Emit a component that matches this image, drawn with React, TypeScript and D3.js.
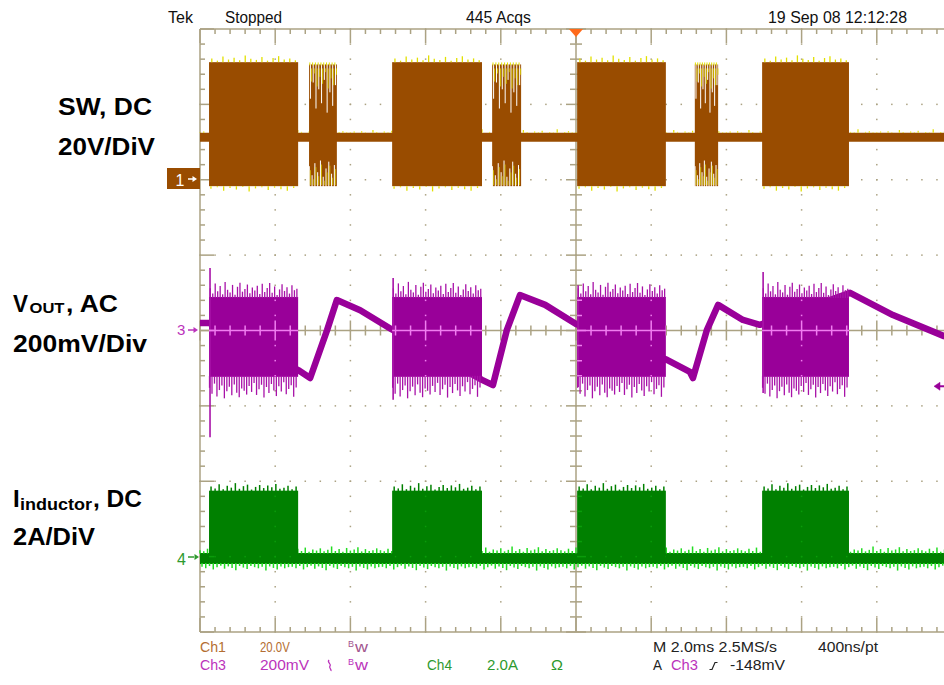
import React from "react";
import * as d3 from "d3";

// ---------------- data ----------------
const timeDomainMs: [number, number] = [-10, 10]; // 2 ms/div, 10 div
const divDomain: [number, number] = [-4, 4];

const ch1VoltsPerDiv = 20;
const ch1OffsetDiv = 2;
const ch3MvPerDiv = 200;
const ch3OffsetDiv = 0;
const ch4AmpsPerDiv = 2;
const ch4OffsetDiv = -3;

// switching bursts (ms)
const burstStartMs = [-9.76, -4.89, 0.03, 4.95];
const burstEndMs = [-7.39, -2.5, 2.39, 7.26];
const sparseStartMs = [-7.1, -2.23, 3.16];
const sparseEndMs = [-6.36, -1.46, 3.78];

// CH1 SW (V)
const swIdleV = 11.3;
const swHighV = 31.2;
const swLowV = -1.7;
const swSparseHighV = 30.6;
const swTopSpikesV = [32.2, 31.6, 32.7, 31.9, 32.4, 31.7, 33.0, 32.1, 31.8, 32.6, 31.6, 32.3, 32.8, 31.9, 32.2, 31.7];
const swBottomSpikesV = [-2.4, -2.0, -2.9, -2.2, -2.6, -1.9, -3.1, -2.3, -2.0, -2.7, -2.1, -2.5, -2.9, -2.2];
const swIdleFuzzV = [12.6, 12.8, 12.5, 12.9, 12.6, 12.5, 13.2, 12.7, 12.5, 12.8, 12.6, 13.0, 12.5, 12.7, 12.6, 13.4, 12.5, 12.7, 12.9, 12.6];
const swSparseGapTopV = [21.5, 25.8, 18.9, 24.0, 20.3, 26.5, 17.8, 23.2, 19.6, 25.1];
const swSparseGapBottomV = [3.6, 1.2, 4.4, 2.0, 5.1, 0.8, 3.0, 4.8, 1.6, 3.9];

// CH3 VOUT AC (mV)
const voutTimeMs = [-10, -9.76, -7.39, -7.07, -6.62, -6.36, -5.74, -4.92, -2.5, -2.21, -1.84, -1.49, -0.82, 0, 2.42, 3.03, 3.11, 3.48, 3.78, 4.44, 4.89, 7.29, 8.43, 9.79, 10];
const voutMv = [20, 20, -105, -126, 1, 81, 54, 4, -131, -145, 1, 94, 68, 17, -78, -110, -126, 1, 68, 28, 15, 100, 41, -15, -20];
const voutBandTopMv = 89;
const voutBandBottomMv = -123;
const voutUpSpikesMv = [112, 98, 125, 104, 118, 96, 129, 108, 101, 121, 95, 116, 127, 103, 110, 122, 99, 114, 106, 119, 97, 124, 102, 113, 126, 100, 117, 94, 109, 123, 105, 115, 98, 120, 107, 111];
const voutDownSpikesMv = [-152, -168, -141, -175, -158, -146, -180, -161, -149, -172, -143, -165, -177, -154, -160, -170, -147, -163, -139, -171, -156, -144, -178, -150, -166, -142, -159, -174, -148, -162, -137, -169, -155, -145, -176, -151];
const voutEdgeSpikeMaxMv = [166, 139, 120, 155];
const voutEdgeSpikeMinMv = [-283, -184, -150, -166];
const trigLevelMv = -148;

// CH4 inductor current (A)
const ilBurstTopA = 1.75;
const ilBurstBottomA = -0.17;
const ilBaseA = -0.05;
const ilTopSpikesA = [1.86, 1.81, 1.92, 1.79, 1.88, 1.83, 1.95, 1.8, 1.87, 1.91, 1.78, 1.85, 1.9, 1.82, 1.89, 1.84, 1.93, 1.8, 1.83, 1.88, 1.79, 1.86];
const ilFuzzUpA = [0.17, 0.14, 0.21, 0.15, 0.24, 0.13, 0.19, 0.16, 0.22, 0.14, 0.18, 0.27, 0.15, 0.2, 0.13, 0.23, 0.16, 0.19, 0.25, 0.14, 0.2, 0.15, 0.17, 0.22];
const ilFuzzDownA = [-0.27, -0.31, -0.25, -0.34, -0.28, -0.24, -0.32, -0.26, -0.3, -0.36, -0.25, -0.29, -0.33, -0.25, -0.28, -0.31, -0.27, -0.37, -0.26, -0.3, -0.34, -0.26, -0.31, -0.28];

// texts
const topTexts = [
  { t: "Tek", x: 168, len: 25 },
  { t: "Stopped", x: 225, len: 57 },
  { t: "445 Acqs", x: 466, len: 65 },
  { t: "19 Sep 08 12:12:28", x: 768, len: 139 },
];

// ---------------- colours ----------------
const GRID = "#aba283";
const BROWN = "#994c00";
const YELLOW = "#e2e000";
const PURPLE = "#990099";
const PURPLE_SPIKE = "#a812a8";
const PINK = "#f07ef0";
const GREEN = "#008000";
const LGREEN = "#22dd22";
const CH1TXT = "#b46e32";
const CH3TXT = "#bb33bb";
const CH4TXT = "#2e9a2e";
const SCOPE_FONT = "'Liberation Sans', Arial, sans-serif";

const x = d3.scaleLinear().domain(timeDomainMs).range([200, 952]);
const yDiv = d3.scaleLinear().domain(divDomain).range([632, 29]);
const y1 = (v: number) => yDiv(ch1OffsetDiv + v / ch1VoltsPerDiv);
const y3 = (mv: number) => yDiv(ch3OffsetDiv + mv / ch3MvPerDiv);
const y4 = (a: number) => yDiv(ch4OffsetDiv + a / ch4AmpsPerDiv);
const spread = (s: number, e: number, n: number, i: number, off = 0.5) => s + ((i + off) * (e - s)) / n;

function Graticule({ color }: { color: string }) {
  const left = x(-10), right = x(10), top = yDiv(4), bottom = yDiv(-4);
  const cx = x(0), cy = yDiv(0);
  const minorX = d3.range(0, 51).map((i) => left + (i * (right - left)) / 50);
  const minorY = d3.range(0, 41).map((i) => top + (i * (bottom - top)) / 40);
  const els: JSX.Element[] = [];
  d3.range(1, 10).forEach((k) => {
    if (k === 5) return;
    const gx = x(-10 + 2 * k);
    minorY.forEach((yy, j) => els.push(<rect key={`dv${k}-${j}`} x={gx - 0.75} y={yy - 0.75} width={1.5} height={1.5} fill={color} />));
  });
  d3.range(1, 8).forEach((k) => {
    if (k === 4) return;
    const gy = yDiv(-4 + k);
    minorX.forEach((xx, j) => els.push(<rect key={`dh${k}-${j}`} x={xx - 0.75} y={gy - 0.75} width={1.5} height={1.5} fill={color} />));
  });
  els.push(<line key="bl" x1={left} x2={left} y1={top} y2={bottom} stroke={color} strokeWidth={1.5} />);
  els.push(<line key="bt" x1={left} x2={right} y1={top} y2={top} stroke={color} strokeWidth={1.5} />);
  els.push(<line key="bb" x1={left} x2={right} y1={bottom} y2={bottom} stroke={color} strokeWidth={1.5} />);
  els.push(<line key="ch" x1={left} x2={right} y1={cy} y2={cy} stroke={color} strokeWidth={1.5} />);
  els.push(<line key="cv" x1={cx} x2={cx} y1={top} y2={bottom} stroke={color} strokeWidth={1.5} />);
  minorX.forEach((xx, i) => {
    const maj = i % 5 === 0;
    els.push(<line key={`tt${i}`} x1={xx} x2={xx} y1={top} y2={top + (maj ? 14 : 5)} stroke={color} strokeWidth={1.5} />);
    els.push(<line key={`tb${i}`} x1={xx} x2={xx} y1={bottom} y2={bottom - (maj ? 14 : 5)} stroke={color} strokeWidth={1.5} />);
    els.push(<line key={`tc${i}`} x1={xx} x2={xx} y1={cy - (maj ? 10 : 5)} y2={cy + (maj ? 10 : 5)} stroke={color} strokeWidth={1.5} />);
  });
  minorY.forEach((yy, i) => {
    const maj = i % 5 === 0;
    els.push(<line key={`tl${i}`} x1={left} x2={left + (maj ? 14 : 5)} y1={yy} y2={yy} stroke={color} strokeWidth={1.5} />);
    els.push(<line key={`tv${i}`} x1={cx - (maj ? 10 : 6)} x2={cx + (maj ? 10 : 6)} y1={yy} y2={yy} stroke={color} strokeWidth={1.5} />);
  });
  return <g>{els}</g>;
}

export default function App() {
  const voutLine = d3
    .line<number>()
    .x((_, i) => x(voutTimeMs[i]))
    .y((d) => y3(d));

  const fuzzTimes = d3.range(0, 201).map((i) => -10 + i * 0.1);

  return (
    <svg width={944} height={685} style={{ position: "absolute", left: 0, top: 0, background: "#fff" }} fontFamily={SCOPE_FONT}>
      <rect width={944} height={685} fill="#fff" />
      <defs>
        <clipPath id="screen">
          <rect x={0} y={0} width={944} height={685} />
        </clipPath>
        <clipPath id="c3clip">
          {burstStartMs.map((s, k) => (
            <rect key={k} x={x(s)} y={y3(voutBandTopMv)} width={x(burstEndMs[k]) - x(s)} height={y3(voutBandBottomMv) - y3(voutBandTopMv)} />
          ))}
        </clipPath>
        <clipPath id="c4clip">
          {burstStartMs.map((s, k) => (
            <rect key={k} x={x(s)} y={y4(ilBurstTopA)} width={x(burstEndMs[k]) - x(s)} height={y4(ilBurstBottomA) - y4(ilBurstTopA)} />
          ))}
        </clipPath>
      </defs>

      <Graticule color={GRID} />

      {/* ---------- CH1 SW ---------- */}
      <line x1={x(-10)} x2={x(10)} y1={y1(swIdleV)} y2={y1(swIdleV)} stroke={BROWN} strokeWidth={9} />
      {fuzzTimes.map((t, i) => (
        <line key={`sf${i}`} x1={x(t)} x2={x(t)} y1={y1(swIdleV) - 4.5} y2={y1(swIdleFuzzV[i % swIdleFuzzV.length])} stroke={YELLOW} strokeWidth={1.2} />
      ))}
      {burstStartMs.map((s, k) => {
        const e = burstEndMs[k];
        return (
          <g key={`b1${k}`}>
            <rect x={x(s)} y={y1(swHighV)} width={x(e) - x(s)} height={y1(swLowV) - y1(swHighV)} fill={BROWN} />
            {swTopSpikesV.map((v, i) => {
              const xx = x(spread(s, e, swTopSpikesV.length, i));
              return <line key={`u${i}`} x1={xx} x2={xx} y1={y1(swHighV)} y2={y1(v)} stroke={YELLOW} strokeWidth={1.3} />;
            })}
            {swBottomSpikesV.map((v, i) => {
              const xx = x(spread(s, e, swBottomSpikesV.length, i, 0.3));
              return <line key={`d${i}`} x1={xx} x2={xx} y1={y1(swLowV)} y2={y1(v)} stroke={YELLOW} strokeWidth={1.3} />;
            })}
          </g>
        );
      })}
      {sparseStartMs.map((s, k) => {
        const e = sparseEndMs[k];
        const n = swSparseGapTopV.length;
        return (
          <g key={`sp${k}`}>
            <rect x={x(s)} y={y1(swSparseHighV)} width={x(e) - x(s)} height={y1(swLowV) - y1(swSparseHighV)} fill={BROWN} />
            {swSparseGapTopV.map((v, i) => {
              const xx = x(spread(s, e, n, i));
              return (
                <g key={`gt${i}`}>
                  <line x1={xx} x2={xx} y1={y1(swSparseHighV) - 1} y2={y1(v)} stroke="#fff" strokeWidth={1} />
                  <line x1={xx + 1} x2={xx + 1} y1={y1(swSparseHighV) + 4} y2={(y1(v) + y1(swSparseHighV)) / 2} stroke={YELLOW} strokeWidth={0.8} />
                  <line x1={xx - 0.6} x2={xx - 0.6} y1={y1(swSparseHighV) - 2} y2={y1(swSparseHighV) + 1} stroke={YELLOW} strokeWidth={1} />
                </g>
              );
            })}
            {swSparseGapBottomV.map((v, i) => {
              const xx = x(spread(s, e, n, i, 0.1));
              return (
                <g key={`gb${i}`}>
                  <line x1={xx} x2={xx} y1={y1(swLowV) + 1} y2={y1(v)} stroke="#fff" strokeWidth={1} />
                  <line x1={xx + 1} x2={xx + 1} y1={y1(swLowV) - 1} y2={y1(v) + 4} stroke={YELLOW} strokeWidth={0.7} />
                </g>
              );
            })}
          </g>
        );
      })}

      {/* ---------- CH3 VOUT ---------- */}
      <path d={voutLine(voutMv) || ""} fill="none" stroke={PURPLE} strokeWidth={6.5} strokeLinejoin="round" clipPath="url(#screen)" />
      {burstStartMs.map((s, k) => {
        const e = burstEndMs[k];
        return (
          <g key={`b3${k}`}>
            <rect x={x(s)} y={y3(voutBandTopMv)} width={x(e) - x(s)} height={y3(voutBandBottomMv) - y3(voutBandTopMv)} fill={PURPLE} />
            {voutUpSpikesMv.map((v, i) => {
              const xx = x(spread(s, e, voutUpSpikesMv.length, i));
              return <line key={`u${i}`} x1={xx} x2={xx} y1={y3(voutBandTopMv) + 1} y2={y3(v)} stroke={PURPLE_SPIKE} strokeWidth={1.3} />;
            })}
            {voutDownSpikesMv.map((v, i) => {
              const xx = x(spread(s, e, voutDownSpikesMv.length, i, 0.2));
              return <line key={`d${i}`} x1={xx} x2={xx} y1={y3(voutBandBottomMv) - 1} y2={y3(v)} stroke={PURPLE_SPIKE} strokeWidth={1.3} />;
            })}
            <line x1={x(s) + 1} x2={x(s) + 1} y1={y3(voutEdgeSpikeMaxMv[k])} y2={y3(voutEdgeSpikeMinMv[k])} stroke={PURPLE_SPIKE} strokeWidth={1.6} />
          </g>
        );
      })}
      <g clipPath="url(#c3clip)">
        <Graticule color={PINK} />
      </g>

      {/* ---------- CH4 IL ---------- */}
      <rect x={x(-10)} y={y4(ilBaseA) - 5.5} width={x(10) - x(-10)} height={11} fill={GREEN} />
      {fuzzTimes.map((t, i) => (
        <g key={`if${i}`}>
          <line x1={x(t)} x2={x(t)} y1={y4(ilBaseA) - 5} y2={y4(ilFuzzUpA[i % ilFuzzUpA.length])} stroke={LGREEN} strokeWidth={1.5} />
          <line x1={x(t) + 2} x2={x(t) + 2} y1={y4(ilBaseA) + 4.5} y2={y4(ilFuzzDownA[i % ilFuzzDownA.length])} stroke={LGREEN} strokeWidth={1.5} />
        </g>
      ))}
      {burstStartMs.map((s, k) => {
        const e = burstEndMs[k];
        return (
          <g key={`b4${k}`}>
            <rect x={x(s)} y={y4(ilBurstTopA)} width={x(e) - x(s)} height={y4(ilBurstBottomA) - y4(ilBurstTopA)} fill={GREEN} />
            {ilTopSpikesA.map((v, i) => {
              const xx = x(spread(s, e, ilTopSpikesA.length, i));
              return <line key={`u${i}`} x1={xx} x2={xx} y1={y4(ilBurstTopA) + 1} y2={y4(v)} stroke={GREEN} strokeWidth={1.5} />;
            })}
          </g>
        );
      })}
      <g clipPath="url(#c4clip)" opacity={0.3}>
        <Graticule color={LGREEN} />
      </g>

      {/* trigger markers */}
      <path d={`M${x(0) - 7},29 L${x(0) + 7},29 L${x(0)},37 Z`} fill="#ff6a1a" />
      <g stroke={PURPLE} fill={PURPLE}>
        <line x1={936} x2={944} y1={y3(trigLevelMv)} y2={y3(trigLevelMv)} strokeWidth={2} />
        <path d={`M934,${y3(trigLevelMv)} L940,${y3(trigLevelMv) - 4} L940,${y3(trigLevelMv) + 4} Z`} strokeWidth={0.5} />
      </g>

      {/* channel markers */}
      <rect x={167} y={168} width={33} height={21} fill={BROWN} />
      <text x={175.5} y={186} fontSize={16} fill="#fff">1</text>
      <line x1={188} x2={194} y1={179} y2={179} stroke="#fff" strokeWidth={1.5} />
      <path d="M197,179 L192.5,176 L192.5,182 Z" fill="#fff" />

      <text x={177} y={335} fontSize={15} fill={CH3TXT}>3</text>
      <line x1={188} x2={194} y1={330} y2={330} stroke={CH3TXT} strokeWidth={1.5} />
      <path d="M198,330 L193.5,327 L193.5,333 Z" fill={CH3TXT} />

      <text x={177} y={565} fontSize={16} fill={CH4TXT}>4</text>
      <line x1={188} x2={194} y1={557} y2={557} stroke={CH4TXT} strokeWidth={1.5} />
      <path d="M199,557 L194.5,554 L194.5,560 Z" fill={CH4TXT} />

      {/* top status */}
      {topTexts.map((d) => (
        <text key={d.t} x={d.x} y={23} fontSize={16} fill="#111" textLength={d.len} lengthAdjust="spacingAndGlyphs">
          {d.t}
        </text>
      ))}

      {/* bottom readouts */}
      <g fontSize={15}>
        <text x={200} y={652} fill={CH1TXT} textLength={26} lengthAdjust="spacingAndGlyphs">Ch1</text>
        <text transform="translate(260,652) scale(0.76,1)" fill={CH1TXT}>20.0V</text>
        <text x={348} y={647} fill="#a2548e" fontSize={9}>B</text>
        <text x={355} y={652} fill="#a2548e" fontSize={14} textLength={13} lengthAdjust="spacingAndGlyphs">w</text>

        <text x={200} y={670} fill={CH3TXT} textLength={26} lengthAdjust="spacingAndGlyphs">Ch3</text>
        <text x={260} y={670} fill={CH3TXT} textLength={49} lengthAdjust="spacingAndGlyphs">200mV</text>
        <path d="M329,660 C326.5,662.5 332,664 330,666 C328.5,668 331.5,669 331,671" fill="none" stroke={CH3TXT} strokeWidth={1.3} />
        <text x={348} y={665} fill={CH3TXT} fontSize={9}>B</text>
        <text x={355} y={670} fill={CH3TXT} fontSize={14} textLength={13} lengthAdjust="spacingAndGlyphs">w</text>
        <text x={427} y={670} fill={CH4TXT} textLength={25} lengthAdjust="spacingAndGlyphs">Ch4</text>
        <text x={487} y={670} fill={CH4TXT} textLength={31} lengthAdjust="spacingAndGlyphs">2.0A</text>
        <text x={551} y={670} fill={CH4TXT} textLength={12} lengthAdjust="spacingAndGlyphs">Ω</text>

        <text x={653} y={652} fill="#222" textLength={124} lengthAdjust="spacingAndGlyphs">M 2.0ms 2.5MS/s</text>
        <text x={818} y={652} fill="#222" textLength={60} lengthAdjust="spacingAndGlyphs">400ns/pt</text>
        <text x={653} y={670} fill="#222" textLength={9} lengthAdjust="spacingAndGlyphs">A</text>
        <text x={671} y={670} fill={CH3TXT} textLength={27} lengthAdjust="spacingAndGlyphs">Ch3</text>
        <path d="M709.5,669.5 L712,669.5 L715,662.5 L717.5,662.5" fill="none" stroke="#222" strokeWidth={1.2} />
        <text x={730} y={670} fill="#222" textLength={55} lengthAdjust="spacingAndGlyphs">-148mV</text>
      </g>

      {/* left annotations */}
      <g fontFamily="'Liberation Sans', Arial, sans-serif" fontWeight="bold" fill="#000">
        <text x={58} y={115} fontSize={24} textLength={94} lengthAdjust="spacingAndGlyphs">SW, DC</text>
        <text x={58} y={155} fontSize={24} textLength={97} lengthAdjust="spacingAndGlyphs">20V/DiV</text>

        <text x={13} y={312} fontSize={24} textLength={15} lengthAdjust="spacingAndGlyphs">V</text>
        <text x={29.5} y={313} fontSize={14} textLength={35} lengthAdjust="spacingAndGlyphs">OUT</text>
        <text x={66} y={312} fontSize={24} textLength={52} lengthAdjust="spacingAndGlyphs">, AC</text>
        <text x={13} y={352} fontSize={24} textLength={134} lengthAdjust="spacingAndGlyphs">200mV/Div</text>

        <text x={13} y={507} fontSize={24}>I</text>
        <text x={20} y={510} fontSize={16.5} textLength={72} lengthAdjust="spacingAndGlyphs">inductor</text>
        <text x={93} y={507} fontSize={24} textLength={49} lengthAdjust="spacingAndGlyphs">, DC</text>
        <text x={13} y={545} fontSize={24} textLength={82} lengthAdjust="spacingAndGlyphs">2A/DiV</text>
      </g>
    </svg>
  );
}
